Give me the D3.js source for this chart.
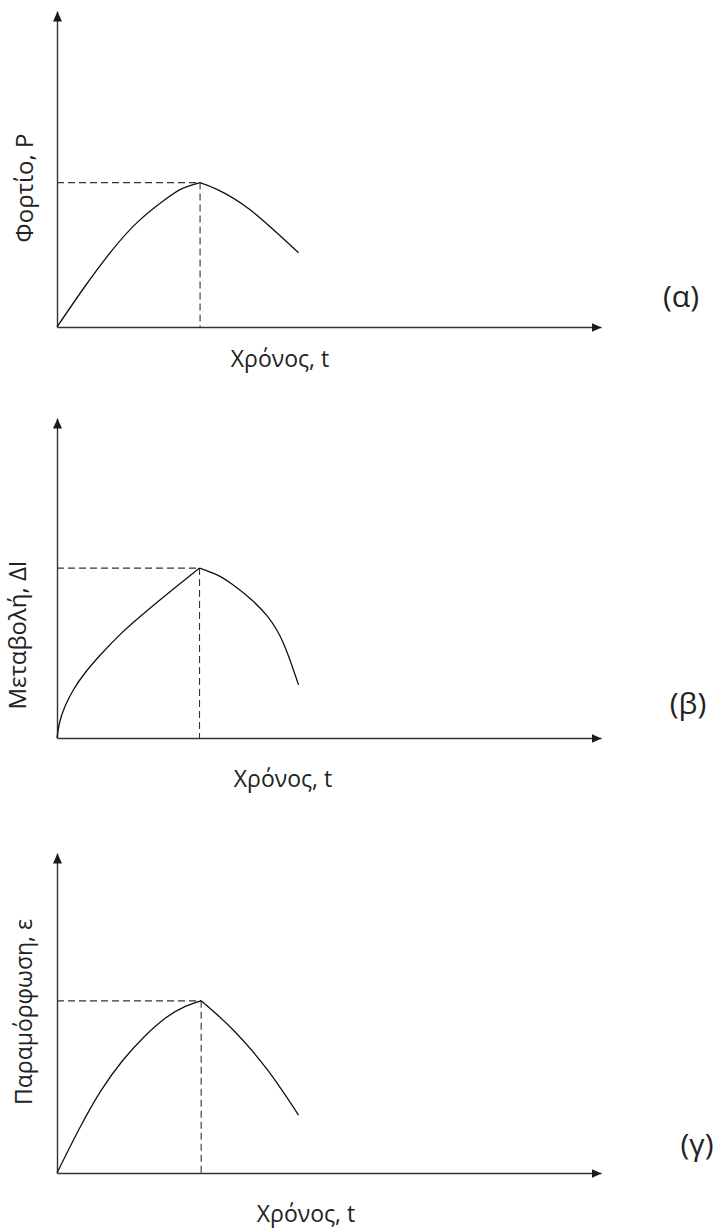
<!DOCTYPE html>
<html>
<head>
<meta charset="utf-8">
<script src="https://cdn.jsdelivr.net/npm/d3@7"></script>
<style>
  html, body { margin: 0; padding: 0; background: #fff; }
  svg { display: block; }
  text { font-family: "Open Sans", "Noto Sans", "DejaVu Sans", sans-serif; fill: #222; }
</style>
</head>
<body>
<svg id="chart" width="720" height="1232"></svg>
<script>
// ---- data (time t, arbitrary units 0..10; response, arbitrary units 0..10) ----
const panelIds = ["a", "b", "c"];
const panelTags = ["(α)", "(β)", "(γ)"];
const yLabels = ["Φορτίο, P", "Μεταβολή, ΔΙ", "Παραμόρφωση, ε"];
const xLabel = "Χρόνος, t";

// rising branch (up to the peak) and falling branch (after the peak)
const riseA = [[0,0],[0.5,1.25],[1.0,2.4],[1.5,3.35],[2.0,4.05],[2.3,4.38],[2.63,4.57]];
const fallA = [[2.63,4.57],[2.95,4.35],[3.55,3.71],[4.44,2.35]];

const riseB = [[0,0],[0.05,0.5],[0.15,1.0],[0.3,1.5],[0.5,2.0],[0.8,2.6],[1.2,3.3],[1.6,3.9],[2.1,4.6],[2.62,5.31]];
const fallB = [[2.62,5.31],[2.95,5.09],[3.24,4.78],[3.55,4.36],[3.87,3.8],[4.16,2.97],[4.44,1.66]];

const riseC = [[0,0],[0.4,1.35],[0.8,2.55],[1.2,3.5],[1.6,4.25],[2.0,4.85],[2.35,5.2],[2.65,5.38]];
const fallC = [[2.65,5.38],[3.24,4.47],[3.87,3.22],[4.44,1.81]];

const rises = [riseA, riseB, riseC];
const falls = [fallA, fallB, fallC];
const domainX = [0, 10];
const domainY = [0, 10];

// ---- layout ----
const axisLeftX = 57, axisRightX = 601;
const origins = [327, 738, 1173];   // pixel y of x-axis
const tops = [11, 418, 853];         // pixel y of y-axis arrow tip
const ylabPos = [[25, 188], [18, 635], [24, 1012]];
const xlabPos = [[280, 367], [283, 787], [306, 1222]];
const tagPos = [[681, 307], [688, 714], [697, 1155]];

const svg = d3.select("#chart");
const defs = svg.append("defs");
defs.append("marker")
  .attr("id", "arrow")
  .attr("viewBox", "0 0 10 10")
  .attr("refX", 10).attr("refY", 5)
  .attr("markerWidth", 10).attr("markerHeight", 10)
  .attr("markerUnits", "userSpaceOnUse")
  .attr("orient", "auto")
  .append("path").attr("d", "M0,0.5L10,5L0,9.5Z").attr("fill", "#1a1a1a");

panelIds.forEach((id, i) => {
  const x = d3.scaleLinear().domain(domainX).range([axisLeftX, axisRightX]);
  const y = d3.scaleLinear().domain(domainY).range([origins[i], tops[i]]);
  const g = svg.append("g").attr("class", "panel-" + id);

  // axes
  const gx = g.append("g").attr("transform", `translate(0,${origins[i]})`)
    .call(d3.axisBottom(x).tickValues([]).tickSizeOuter(0));
  gx.select(".domain").attr("stroke", "#333").attr("stroke-width", 1.4)
    .attr("marker-end", "url(#arrow)");
  const gy = g.append("g").attr("transform", `translate(${axisLeftX},0)`)
    .call(d3.axisLeft(y).tickValues([]).tickSizeOuter(0));
  gy.select(".domain").attr("stroke", "#333").attr("stroke-width", 1.4)
    .attr("marker-end", "url(#arrow)");

  // peak guides
  const peak = rises[i][rises[i].length - 1];
  g.append("line")
    .attr("x1", x(0)).attr("x2", x(peak[0]))
    .attr("y1", y(peak[1])).attr("y2", y(peak[1]))
    .attr("stroke", "#333").attr("stroke-width", 1.1)
    .attr("stroke-dasharray", "7,4");
  g.append("line")
    .attr("x1", x(peak[0])).attr("x2", x(peak[0]))
    .attr("y1", y(peak[1])).attr("y2", y(0))
    .attr("stroke", "#333").attr("stroke-width", 1.1)
    .attr("stroke-dasharray", "7,4");

  // curve
  const line = d3.line().x(d => x(d[0])).y(d => y(d[1])).curve(d3.curveNatural);
  [rises[i], falls[i]].forEach(seg => {
    g.append("path").datum(seg).attr("d", line)
      .attr("fill", "none").attr("stroke", "#111").attr("stroke-width", 1.3);
  });

  // labels
  g.append("text")
    .attr("transform", `translate(${ylabPos[i][0]},${ylabPos[i][1]}) rotate(-90)`)
    .attr("text-anchor", "middle").attr("dy", "0.35em")
    .attr("font-size", i === 2 ? 23 : 24).text(yLabels[i]);
  g.append("text")
    .attr("x", xlabPos[i][0]).attr("y", xlabPos[i][1])
    .attr("text-anchor", "middle").attr("font-size", 23).text(xLabel);
  g.append("text")
    .attr("x", tagPos[i][0]).attr("y", tagPos[i][1])
    .attr("text-anchor", "middle").attr("font-size", 30).text(panelTags[i]);
});
</script>
</body>
</html>
